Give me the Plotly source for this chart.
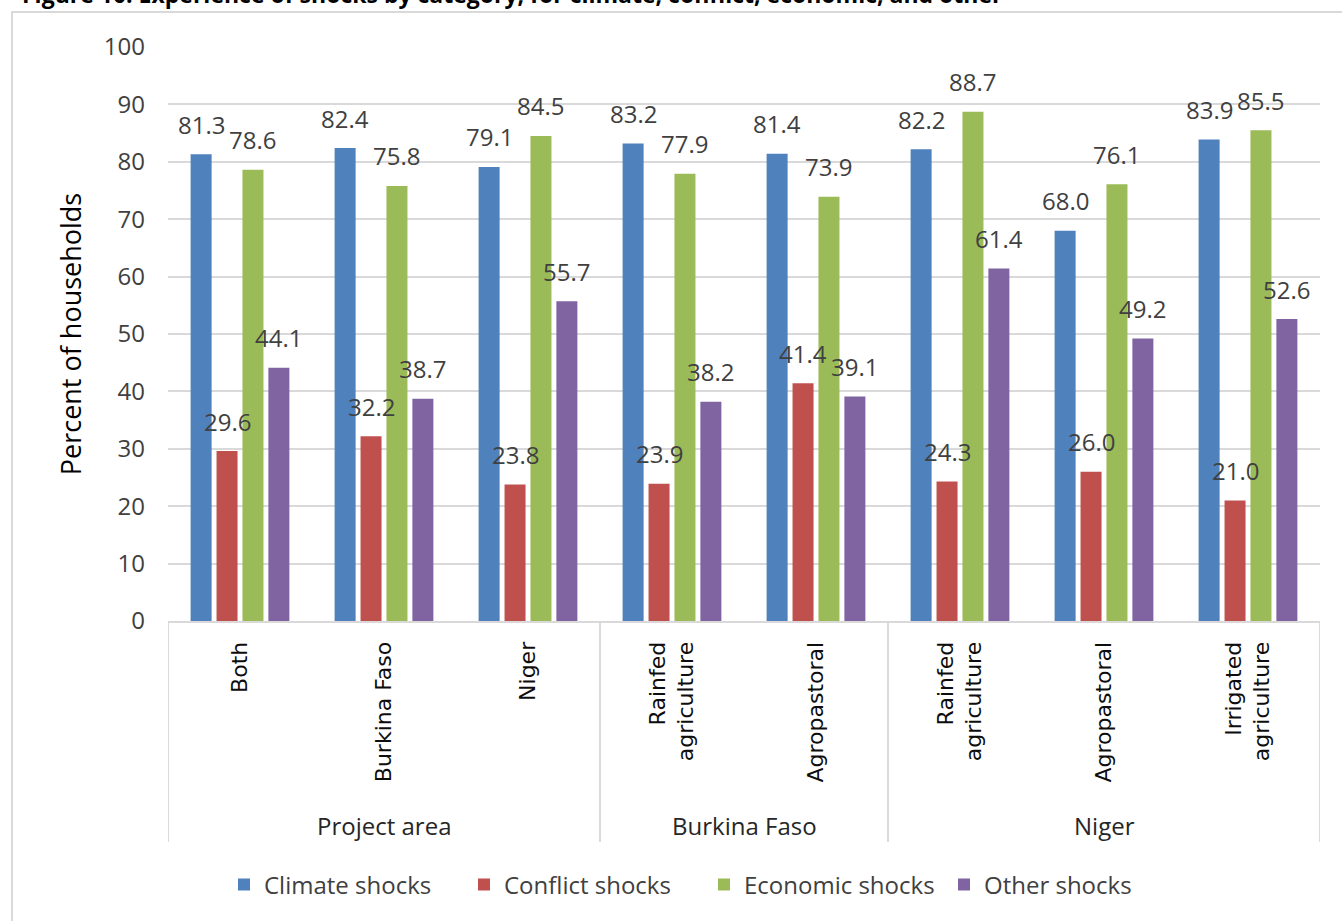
import plotly.graph_objects as go

# ---- data ----
categories = ["Both", "Burkina Faso", "Niger",
              "Rainfed<br>agriculture", "Agropastoral",
              "Rainfed<br>agriculture", "Agropastoral", "Irrigated<br>agriculture"]
groups = ["Project area", "Burkina Faso", "Niger"]
group_sizes = [3, 2, 3]

series_names = ["Climate shocks", "Conflict shocks", "Economic shocks", "Other shocks"]
climate = [81.3, 82.4, 79.1, 83.2, 81.4, 82.2, 68.0, 83.9]
conflict = [29.6, 32.2, 23.8, 23.9, 41.4, 24.3, 26.0, 21.0]
economic = [78.6, 75.8, 84.5, 77.9, 73.9, 88.7, 76.1, 85.5]
other = [44.1, 38.7, 55.7, 38.2, 39.1, 61.4, 49.2, 52.6]
colors = ["#4F81BD", "#C0504D", "#9BBB59", "#8064A2"]
y_ticks = list(range(0, 101, 10))

title_text = "Figure 10: Experience of shocks by category, for climate, conflict, economic, and other"

# ---- page geometry ----
W, H = 1342, 921
ML, MR, MT, MB = 168, 22, 47, 300
PLOT_W = W - ML - MR
PLOT_H = H - MT - MB


def px_to_paper(px):
    return (px - ML) / PLOT_W


def py_to_paper(py):
    return (H - MB - py) / PLOT_H


BARGAP = 0.28
BARGROUPGAP = 0.19
FONT = "Open Sans"
TXT = "#404040"

x_idx = list(range(len(categories)))
series = [climate, conflict, economic, other]

fig = go.Figure()
for name, vals, col in zip(series_names, series, colors):
    fig.add_trace(go.Bar(x=x_idx, y=vals, name=name, marker_color=col,
                         marker_line_width=0))

annotations = []
# value labels above each bar
slot = (1 - BARGAP) / len(series)
for j, vals in enumerate(series):
    off = -(1 - BARGAP) / 2 + slot * (j + 0.5)
    for i, v in zip(x_idx, vals):
        annotations.append(dict(x=i + off, y=v, xref="x", yref="y", text=f"{v:.1f}",
                                showarrow=False, yanchor="middle", yshift=30,
                                font=dict(family=FONT, size=24, color=TXT)))

# group labels and dividers under the category axis
shapes = []
start = 0
bounds = [-0.5]
for g, n in zip(groups, group_sizes):
    annotations.append(dict(x=start + (n - 1) / 2, y=py_to_paper(825), xref="x", yref="paper",
                            text=g, showarrow=False, yanchor="middle",
                            font=dict(family=FONT, size=24, color="#262626")))
    start += n
    bounds.append(start - 0.5)
for b in bounds:
    shapes.append(dict(type="line", xref="x", yref="paper", x0=b, x1=b,
                       y0=0, y1=py_to_paper(842), line=dict(color="#d9d9d9", width=2)))

# outer frame
shapes.append(dict(type="rect", xref="paper", yref="paper",
                   x0=px_to_paper(12), x1=px_to_paper(W + 10),
                   y0=py_to_paper(H + 10), y1=py_to_paper(12),
                   line=dict(color="#d9d9d9", width=2), fillcolor="rgba(0,0,0,0)",
                   layer="below"))

# caption running off the top edge
annotations.append(dict(x=px_to_paper(20), y=py_to_paper(12), xref="paper", yref="paper",
                        xanchor="left", yanchor="bottom", showarrow=False,
                        text=f"<b>{title_text}</b>",
                        font=dict(family=FONT, size=23, color="#000000")))

fig.update_layout(
    width=W, height=H,
    margin=dict(l=ML, r=MR, t=MT, b=MB, autoexpand=False),
    paper_bgcolor="white", plot_bgcolor="white",
    barmode="group", bargap=BARGAP, bargroupgap=BARGROUPGAP,
    font=dict(family=FONT, color=TXT),
    showlegend=True,
    legend=dict(orientation="h", x=px_to_paper(224), xanchor="left",
                y=py_to_paper(885), yanchor="middle", entrywidth=195,
                font=dict(family=FONT, size=24, color=TXT),
                bgcolor="rgba(0,0,0,0)"),
    annotations=annotations,
    shapes=shapes,
)

fig.update_xaxes(range=[-0.5, len(categories) - 0.5], tickmode="array",
                 tickvals=x_idx, ticktext=categories, tickangle=-90,
                 tickfont=dict(family="DejaVu Sans", size=22, color="#0d0d0d"),
                 showline=True, linecolor="#d9d9d9", linewidth=2,
                 showgrid=False, zeroline=False, ticks="", ticklabelstandoff=10)
fig.update_yaxes(range=[0, 100], tickmode="array", tickvals=y_ticks,
                 showgrid=True, gridcolor="#d9d9d9", gridwidth=1.5,
                 zeroline=False, showline=False, ticks="", ticklabelstandoff=22,
                 tickfont=dict(family=FONT, size=24, color=TXT),
                 title=dict(text="Percent of households", standoff=14,
                            font=dict(family=FONT, size=27, color="#000000")))

fig.write_html("out.html")
